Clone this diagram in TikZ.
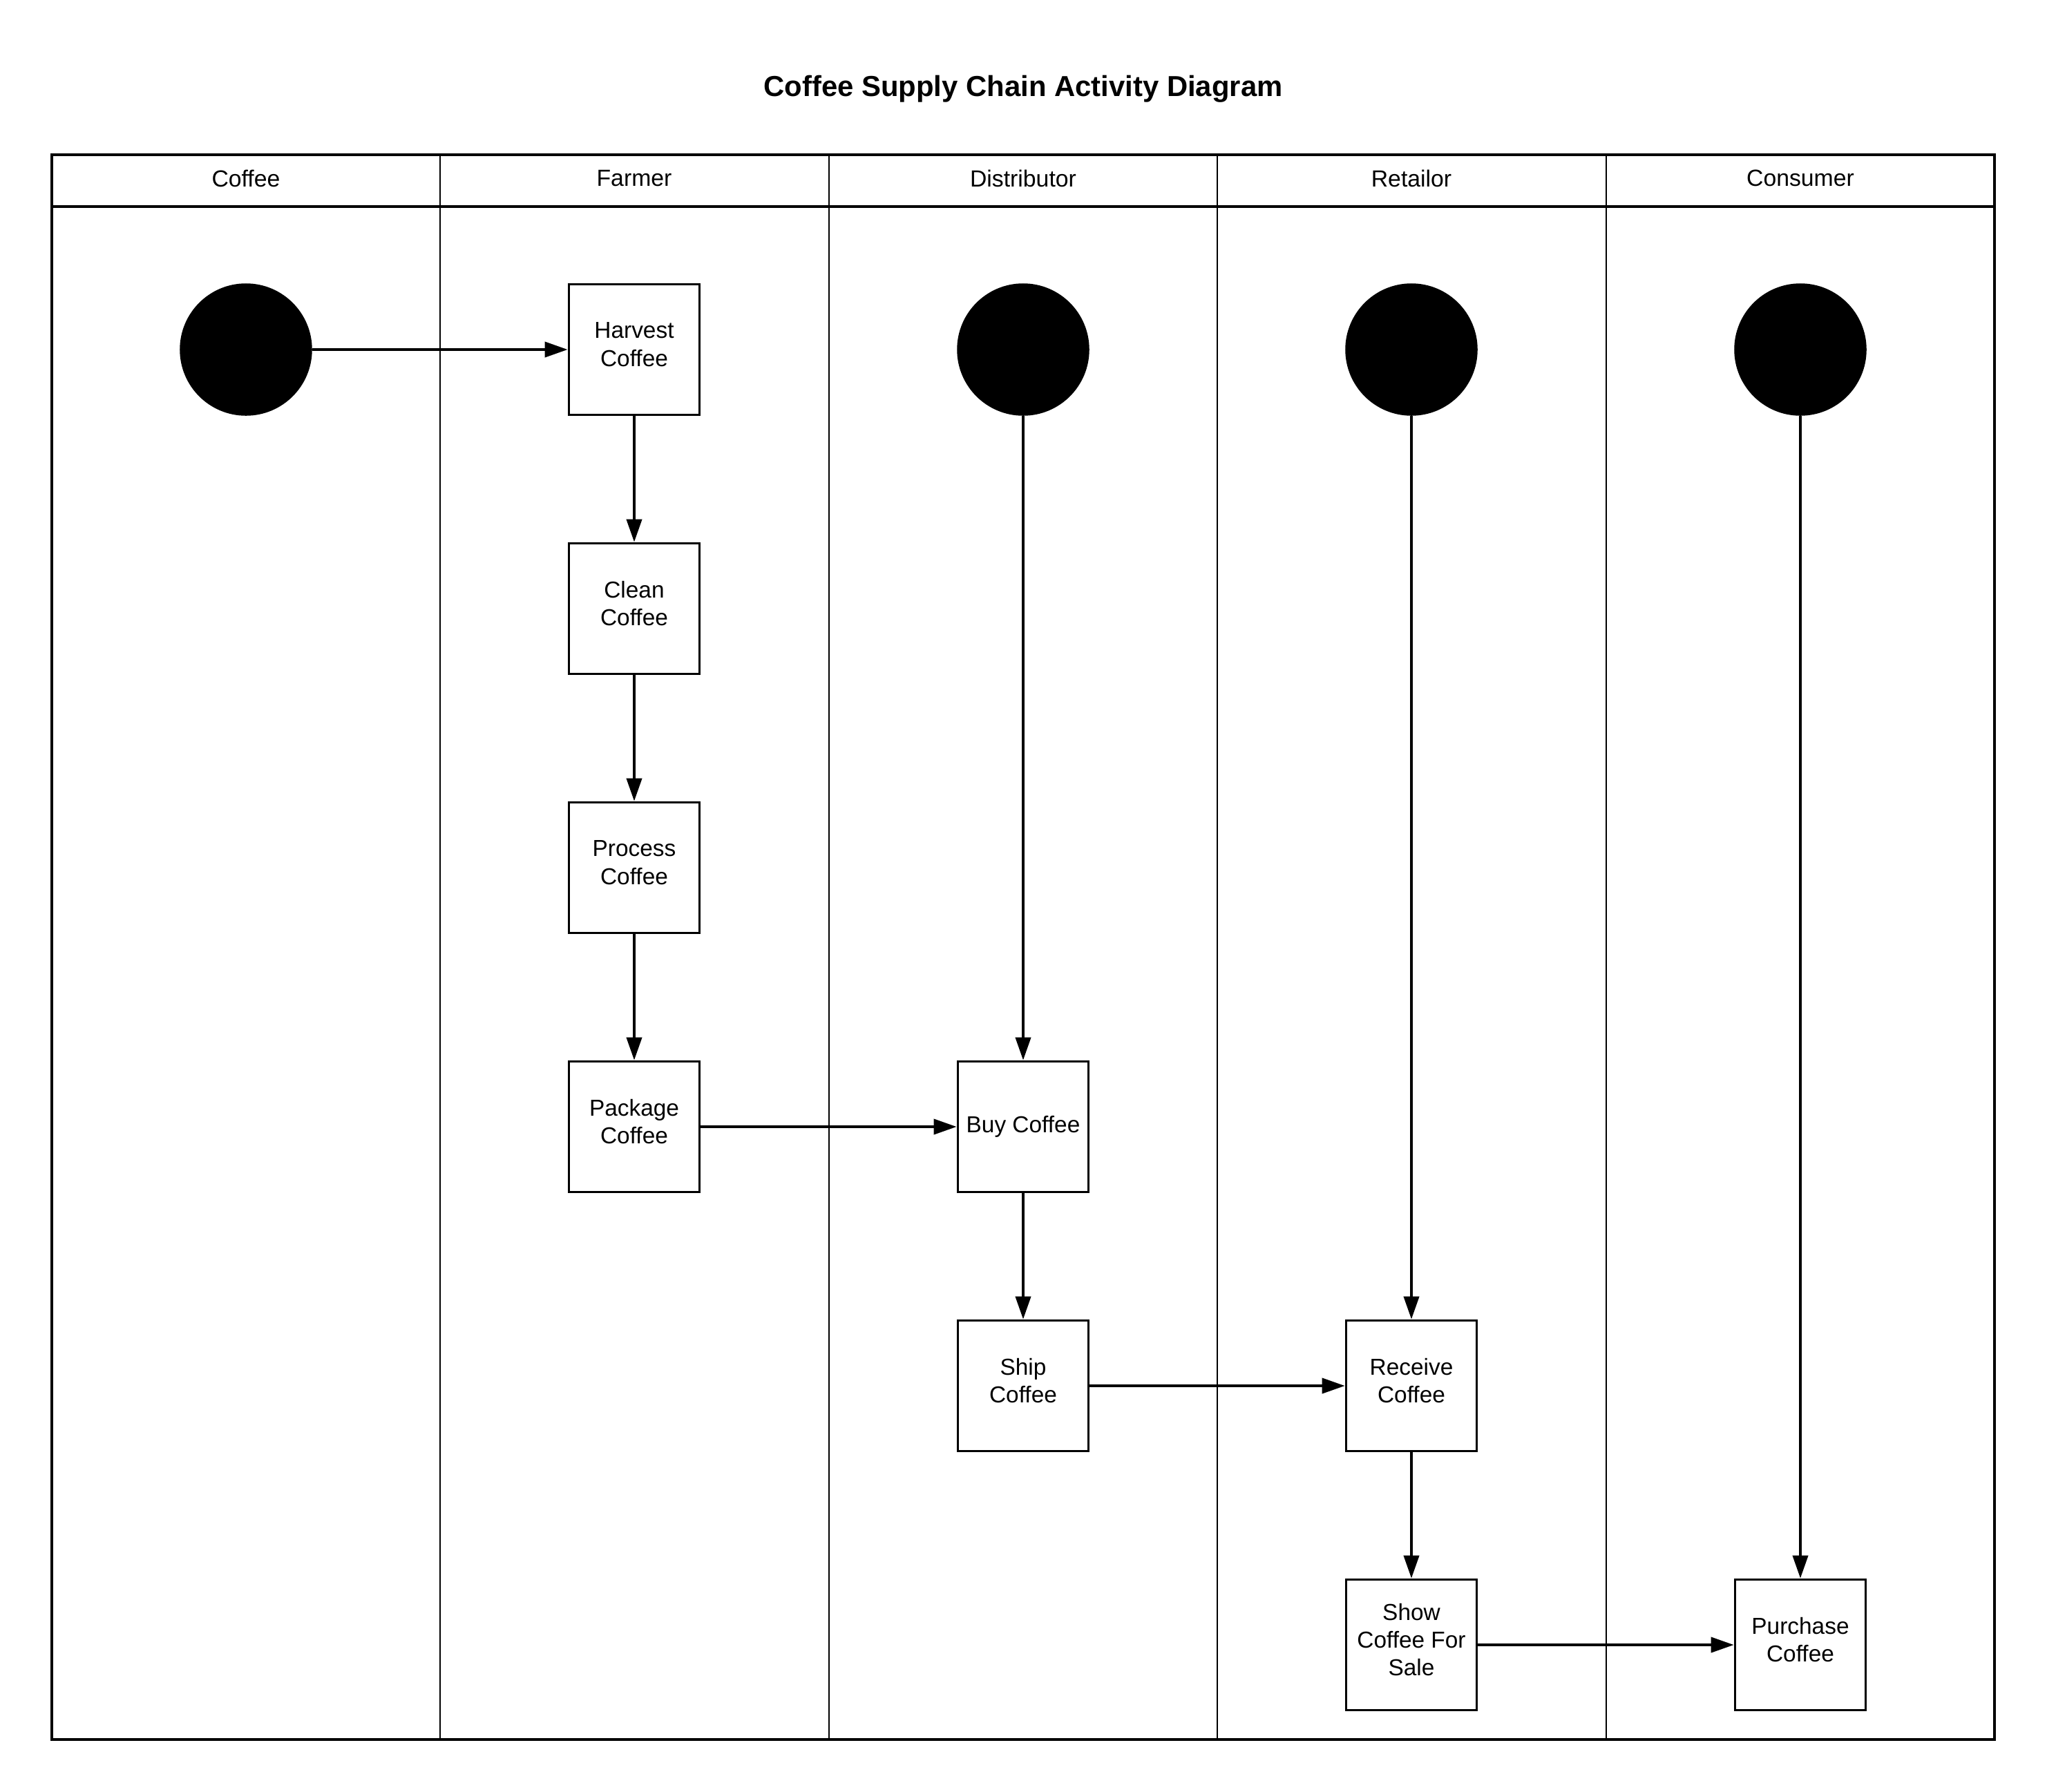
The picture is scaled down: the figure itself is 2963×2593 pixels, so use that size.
\documentclass[tikz,border=0pt]{standalone}
\usepackage{fontspec}
\setmainfont{Liberation Sans}
\usetikzlibrary{arrows.meta}
\begin{document}
\begin{tikzpicture}[x=0.01cm,y=-0.01cm,
  boxfont/.style={font=\fontsize{9.5pt}{11.4pt}\selectfont},
  actbox/.style={draw, line width=1.05pt, minimum width=1.89cm, minimum height=1.89cm, inner sep=0pt,
    align=center, boxfont},
  acttext/.style={label={[boxfont, align=center, inner sep=0pt, yshift=2.1pt]center:{#1}}},
  startdot/.style={circle, fill=black, draw=black, minimum size=1.9cm, inner sep=0pt},
  conn/.style={line width=1.05pt, -{Triangle[length=9.4pt,width=6.3pt]}},
  lanehead/.style={font=\fontsize{9.6pt}{11pt}\selectfont},
  frameline/.style={line width=1pt},
  divline/.style={line width=0.75pt}]
\useasboundingbox (0,0) rectangle (2963,2593);
% title
\node[font=\bfseries\fontsize{11.9pt}{14pt}\selectfont] (title) at (1481,129) {Coffee Supply Chain Activity Diagram};
% lanes
\draw[frameline] (75,224) rectangle (2887,2518);
\draw[frameline] (75,299) -- (2887,299);
\foreach \x in {637,1200,1762,2325} \draw[divline] (\x,224) -- (\x,2518);
\node[lanehead] (h1) at (356,258) {Coffee};
\node[lanehead] (h2) at (918,258) {Farmer};
\node[lanehead] (h3) at (1481,258) {Distributor};
\node[lanehead] (h4) at (2043,258) {Retailor};
\node[lanehead] (h5) at (2606,258) {Consumer};
% start nodes
\node[startdot] (s1) at (356,506) {};
\node[startdot] (s3) at (1481,506) {};
\node[startdot] (s4) at (2043,506) {};
\node[startdot] (s5) at (2606,506) {};
% activities
\node[actbox, acttext={Harvest\\Coffee}] (harvest) at (918,506) {};
\node[actbox, acttext={Clean\\Coffee}] (clean) at (918,881) {};
\node[actbox, acttext={Process\\Coffee}] (process) at (918,1256) {};
\node[actbox, acttext={Package\\Coffee}] (package) at (918,1631) {};
\node[actbox] (buy) at (1481,1631) {Buy Coffee};
\node[actbox, acttext={Ship\\Coffee}] (ship) at (1481,2006) {};
\node[actbox, acttext={Receive\\Coffee}] (receive) at (2043,2006) {};
\node[actbox, acttext={Show\\Coffee For\\Sale}] (show) at (2043,2381) {};
\node[actbox, acttext={Purchase\\Coffee}] (purchase) at (2606,2381) {};
% connectors
\draw[conn] (s1) -- (harvest);
\draw[conn] (harvest) -- (clean);
\draw[conn] (clean) -- (process);
\draw[conn] (process) -- (package);
\draw[conn] (package) -- (buy);
\draw[conn] (s3) -- (buy);
\draw[conn] (buy) -- (ship);
\draw[conn] (ship) -- (receive);
\draw[conn] (s4) -- (receive);
\draw[conn] (receive) -- (show);
\draw[conn] (show) -- (purchase);
\draw[conn] (s5) -- (purchase);
\end{tikzpicture}
\end{document}
